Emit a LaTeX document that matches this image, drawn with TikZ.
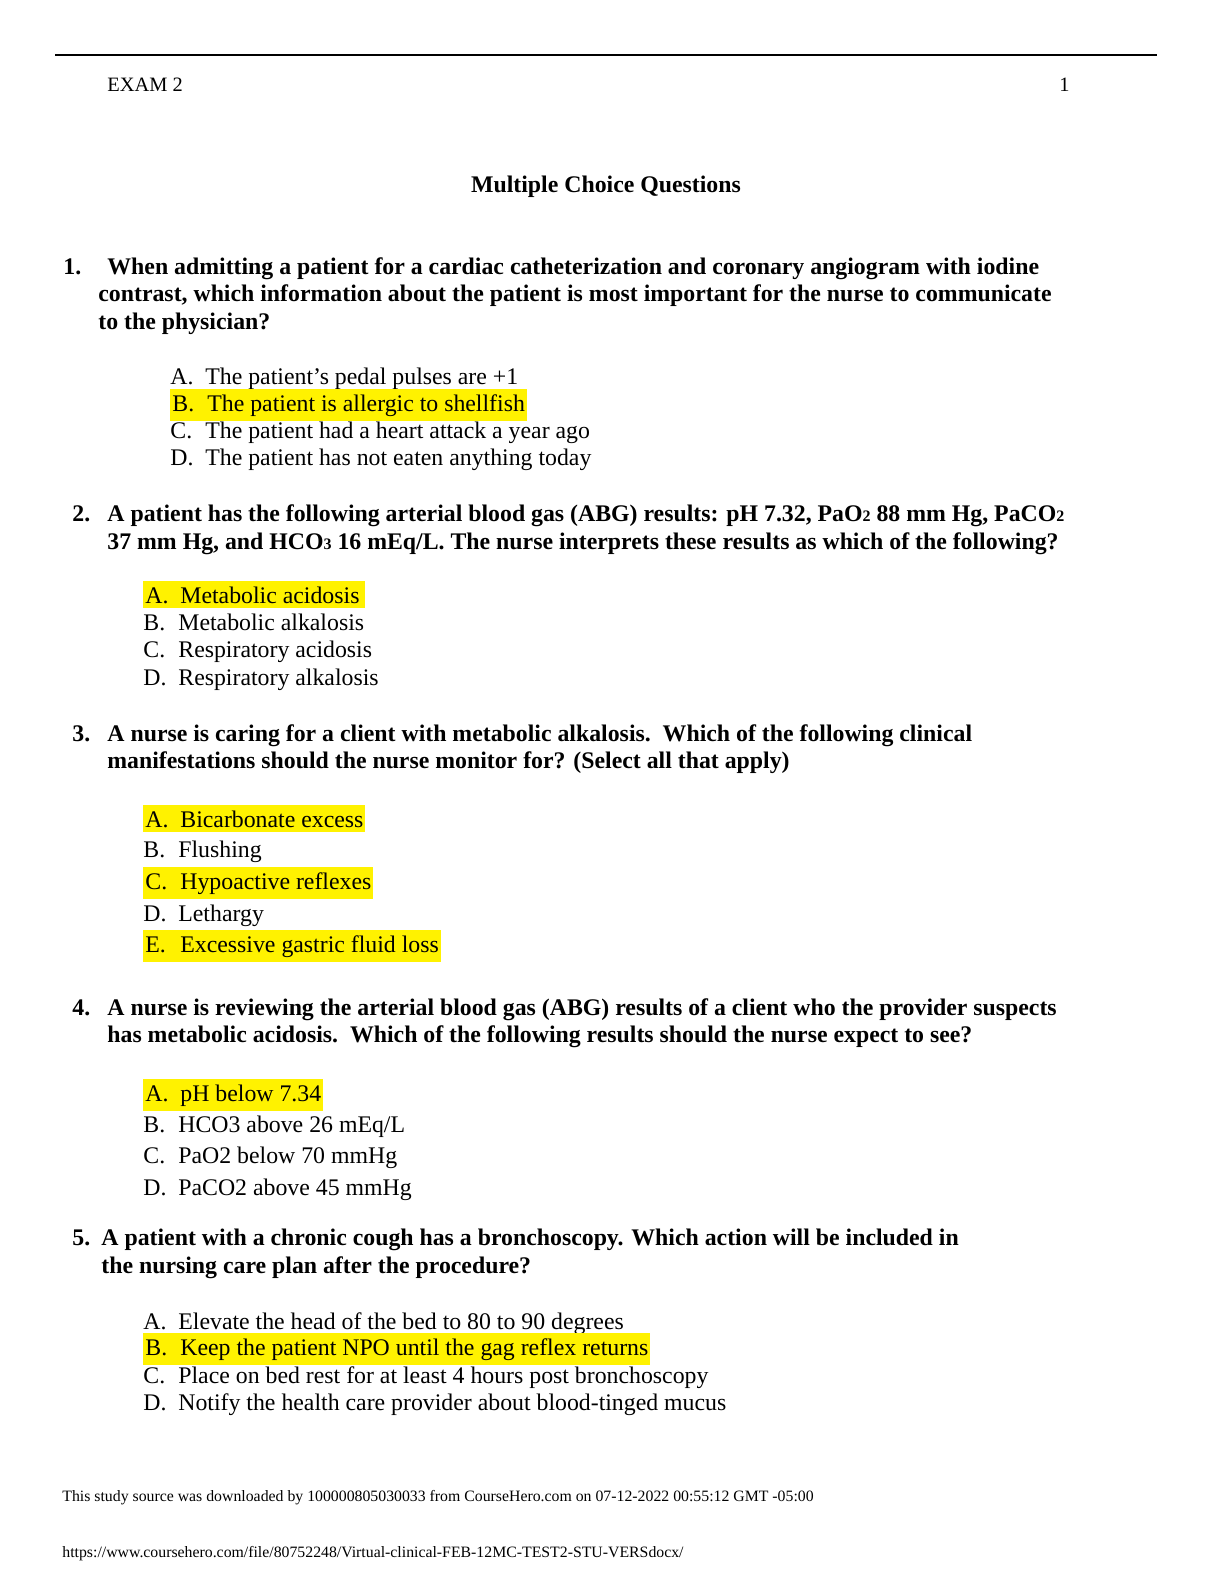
\documentclass[tikz,border=0pt]{standalone}
\usepackage{fontspec}
\setmainfont{Liberation Serif}
\begin{document}
\begin{tikzpicture}[x=0.5pt,y=-0.5pt,
  t/.style={anchor=base west,inner sep=0pt,font=\fontsize{11.9}{13}\selectfont},
  q/.style={anchor=base west,inner sep=0pt,font=\fontsize{11.9}{13}\bfseries},
  hl/.style={t,fill=yellow,inner xsep=1pt,inner ysep=2.5pt}]
\useasboundingbox (0,0) rectangle (1224,1584);
\newcommand{\myans}[5][t]{\node[#1] (#2) at #3 {\makebox[17.5pt][l]{#4}#5};}
\draw[line width=0.6pt] (55,55) coordinate (r1) -- (1157,55) coordinate (r2);
\node[t,font=\fontsize{10.2}{12}\selectfont] (hdr) at (107,92) {EXAM 2};
\node[t,font=\fontsize{10.2}{12}\selectfont] (pg) at (1059,92) {1};
\node[q,anchor=base] (title) at (606,192) {Multiple Choice Questions};
% Q1
\node[q] (n1) at (63,274) {1.};
\node[q] (q1a) at (107,274) {When admitting a patient for a cardiac catheterization and coronary angiogram with iodine};
\node[q] (q1b) at (98,301) {contrast, which information about the patient is most important for the nurse to communicate};
\node[q] (q1c) at (98,329) {to the physician?};
\myans{a1}{(170,384)}{A.}{The patient’s pedal pulses are +1}
\myans[hl]{b1}{(170,411)}{B.}{The patient is allergic to shellfish}
\myans{c1}{(170,438)}{C.}{The patient had a heart attack a year ago}
\myans{d1}{(170,465)}{D.}{The patient has not eaten anything today}
% Q2
\node[q] (n2) at (72,521) {2.};
\node[q] (q2a) at (107,521) {A patient has the following arterial blood gas (ABG) results: pH 7.32, PaO{\fontsize{8}{9}\selectfont 2} 88 mm Hg, PaCO{\fontsize{8}{9}\selectfont 2}};
\node[q] (q2b) at (107,549) {37 mm Hg, and HCO{\fontsize{8}{9}\selectfont 3} 16 mEq/L. The nurse interprets these results as which of the following?};
\myans[hl]{a2}{(143,603)}{A.}{Metabolic acidosis\,}
\myans{b2}{(143,630)}{B.}{Metabolic alkalosis}
\myans{c2}{(143,657)}{C.}{Respiratory acidosis}
\myans{d2}{(143,685)}{D.}{Respiratory alkalosis}
% Q3
\node[q] (n3) at (72,741) {3.};
\node[q] (q3a) at (107,741) {A nurse is caring for a client with metabolic alkalosis.\ \ Which of the following clinical};
\node[q] (q3b) at (107,768) {manifestations should the nurse monitor for? (Select all that apply)};
\myans[hl]{a3}{(143,827)}{A.}{Bicarbonate excess}
\myans{b3}{(143,857)}{B.}{Flushing}
\myans[hl]{c3}{(143,889)}{C.}{Hypoactive reflexes}
\myans{d3}{(143,921)}{D.}{Lethargy}
\myans[hl]{e3}{(143,952)}{E.}{Excessive gastric fluid loss}
% Q4
\node[q] (n4) at (72,1015) {4.};
\node[q] (q4a) at (107,1015) {A nurse is reviewing the arterial blood gas (ABG) results of a client who the provider suspects};
\node[q] (q4b) at (107,1042) {has metabolic acidosis.\ \ Which of the following results should the nurse expect to see?};
\myans[hl]{a4}{(143,1101)}{A.}{pH below 7.34}
\myans{b4}{(143,1132)}{B.}{HCO3 above 26 mEq/L}
\myans{c4}{(143,1163)}{C.}{PaO2 below 70 mmHg}
\myans{d4}{(143,1195)}{D.}{PaCO2 above 45 mmHg}
% Q5
\node[q] (n5) at (72,1245) {5.};
\node[q] (q5a) at (101,1245) {A patient with a chronic cough has a bronchoscopy. Which action will be included in};
\node[q] (q5b) at (101,1273) {the nursing care plan after the procedure?};
\myans{a5}{(143,1329)}{A.}{Elevate the head of the bed to 80 to 90 degrees}
\myans[hl]{b5}{(143,1355)}{B.}{Keep the patient NPO until the gag reflex returns}
\myans{c5}{(143,1383)}{C.}{Place on bed rest for at least 4 hours post bronchoscopy}
\myans{d5}{(143,1410)}{D.}{Notify the health care provider about blood-tinged mucus}
% footer
\node[t,font=\fontsize{7.9}{9}\selectfont] (f1) at (62,1501) {This study source was downloaded by 100000805030033 from CourseHero.com on 07-12-2022 00:55:12 GMT -05:00};
\node[t,font=\fontsize{7.9}{9}\selectfont] (f2) at (62,1557) {https://www.coursehero.com/file/80752248/Virtual-clinical-FEB-12MC-TEST2-STU-VERSdocx/};
\end{tikzpicture}
\end{document}
